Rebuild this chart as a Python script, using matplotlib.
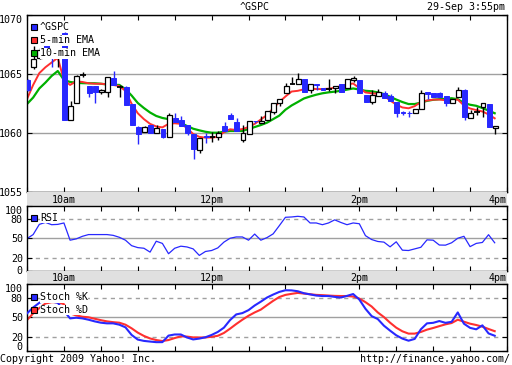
import matplotlib
matplotlib.use('Agg')
import matplotlib.pyplot as plt
from matplotlib.patches import Rectangle

W, H = 512, 365
FONT = 'DejaVu Sans Mono'
FS = 7.2

symbol = '^GSPC'
stamp = '29-Sep 3:55pm'
copyright_txt = 'Copyright 2009 Yahoo! Inc.'
url_txt = 'http://finance.yahoo.com/'
time_labels = ['10am', '12pm', '2pm', '4pm']
time_label_pos = [30, 150, 270, 390]          # minutes after 9:30
price_ticks = [1055, 1060, 1065, 1070]
osc_ticks = [0, 20, 50, 80, 100]
legend_main = ['^GSPC', '5-min EMA', '10-min EMA']

opens = [1064.52, 1065.64, 1066.4, 1067.9, 1067.06, 1066.47, 1068.5, 1061.1, 1062.6, 1064.9,
         1064.0, 1064.0, 1063.5, 1063.47, 1064.66, 1063.9, 1063.95, 1062.5, 1060.56, 1060.14,
         1060.7, 1060.0, 1060.34, 1059.71, 1061.27, 1061.13, 1060.7, 1059.92, 1058.58, 1059.77,
         1059.66, 1059.71, 1060.62, 1061.55, 1060.98, 1059.43, 1059.92, 1061.06, 1060.84, 1061.13,
         1061.83, 1062.54, 1063.44, 1064.15, 1064.15, 1064.58, 1063.67, 1064.18, 1063.87, 1063.75,
         1063.81, 1064.15, 1063.86, 1064.52, 1064.52, 1063.25, 1062.68, 1063.19, 1063.44, 1063.2,
         1062.68, 1061.78, 1061.76, 1061.69, 1062.03, 1063.53, 1063.44, 1063.39, 1063.16, 1062.54,
         1063.1, 1063.67, 1061.27, 1061.83, 1062.2, 1062.48, 1060.42]
highs = [1064.6, 1067.4, 1067.2, 1068.0, 1067.1, 1067.1, 1068.6, 1062.7, 1064.9, 1065.2,
         1064.0, 1064.0, 1063.75, 1064.8, 1065.3, 1064.1, 1064.0, 1062.5, 1060.6, 1060.65,
         1060.7, 1060.7, 1060.34, 1061.7, 1061.7, 1061.47, 1060.7, 1059.92, 1059.6, 1060.0,
         1060.14, 1060.2, 1060.98, 1061.72, 1061.3, 1060.7, 1061.04, 1061.06, 1061.47, 1061.89,
         1062.6, 1062.9, 1064.24, 1064.8, 1065.08, 1064.58, 1064.15, 1064.18, 1063.87, 1064.58,
         1064.0, 1064.15, 1064.58, 1064.86, 1064.52, 1063.25, 1063.67, 1063.73, 1063.6, 1063.3,
         1062.68, 1061.9, 1061.9, 1062.03, 1063.67, 1063.53, 1063.44, 1063.53, 1063.16, 1062.88,
         1063.95, 1063.75, 1061.97, 1062.25, 1062.54, 1062.48, 1060.62]
lows = [1063.6, 1065.45, 1066.3, 1067.2, 1065.62, 1065.62, 1061.1, 1061.1, 1062.6, 1064.8,
        1063.1, 1062.6, 1063.3, 1063.1, 1064.1, 1063.1, 1062.4, 1060.7, 1059.07, 1060.1,
        1060.0, 1060.0, 1059.58, 1059.71, 1060.98, 1060.64, 1059.86, 1057.8, 1058.3, 1059.15,
        1059.3, 1059.43, 1060.22, 1061.19, 1060.22, 1059.24, 1059.92, 1060.85, 1060.84, 1061.1,
        1061.6, 1062.3, 1063.44, 1064.15, 1064.15, 1063.53, 1063.44, 1063.67, 1063.67, 1063.58,
        1063.39, 1063.53, 1063.86, 1064.37, 1063.39, 1062.68, 1062.48, 1063.19, 1062.95, 1062.75,
        1061.36, 1061.55, 1061.4, 1061.69, 1062.03, 1062.9, 1063.05, 1063.1, 1062.34, 1062.54,
        1063.1, 1061.13, 1061.27, 1061.55, 1061.41, 1060.5, 1059.92]
closes = [1063.67, 1066.27, 1067.06, 1067.27, 1066.47, 1067.06, 1061.1, 1062.3, 1064.86, 1064.9,
          1063.4, 1063.5, 1063.7, 1064.8, 1064.1, 1063.9, 1062.4, 1060.7, 1059.92, 1060.56,
          1060.0, 1060.42, 1059.71, 1061.55, 1060.98, 1060.64, 1060.0, 1058.64, 1059.58, 1059.65,
          1059.66, 1060.0, 1060.22, 1061.19, 1060.22, 1060.0, 1061.04, 1061.0, 1061.04, 1061.89,
          1062.6, 1062.88, 1064.0, 1064.15, 1064.58, 1063.53, 1064.15, 1064.1, 1063.67, 1063.75,
          1064.0, 1063.53, 1064.58, 1064.66, 1063.39, 1062.68, 1063.25, 1063.53, 1062.95, 1062.75,
          1061.69, 1061.7, 1061.68, 1062.03, 1063.44, 1063.3, 1063.05, 1063.1, 1062.54, 1062.88,
          1063.67, 1061.41, 1061.69, 1061.83, 1062.54, 1060.5, 1060.62]

ema5 = [1062.9, 1064.1, 1065.1, 1065.6, 1066.0, 1066.4, 1064.5, 1064.1, 1064.4, 1064.35,
        1064.24, 1064.2, 1064.2, 1064.15, 1064.1, 1064.0, 1063.6, 1062.5, 1061.7, 1061.2,
        1060.8, 1060.58, 1060.5, 1060.8, 1060.85, 1060.8, 1060.45, 1059.94, 1059.7, 1059.63,
        1059.63, 1059.7, 1060.1, 1060.34, 1060.28, 1060.36, 1060.53, 1060.8, 1061.17, 1061.55,
        1062.12, 1062.65, 1063.12, 1063.54, 1063.6, 1063.73, 1063.8, 1063.75, 1063.75, 1063.78,
        1063.86, 1064.0, 1064.14, 1064.22, 1063.84, 1063.46, 1063.39, 1063.35, 1063.2, 1062.78,
        1062.44, 1062.19, 1062.12, 1062.3, 1062.65, 1062.78, 1062.85, 1062.86, 1062.8, 1062.82,
        1062.86, 1062.36, 1062.1, 1061.97, 1061.85, 1061.6, 1061.27]
ema10 = [1062.48, 1063.03, 1063.8, 1064.3, 1064.86, 1065.28, 1064.52, 1064.35, 1064.28, 1064.25,
         1064.24, 1064.24, 1064.2, 1064.14, 1064.1, 1064.1, 1063.75, 1063.2, 1062.57, 1062.14,
         1061.76, 1061.47, 1061.3, 1061.2, 1061.08, 1060.87, 1060.62, 1060.39, 1060.25, 1060.13,
         1060.05, 1060.05, 1060.13, 1060.2, 1060.2, 1060.2, 1060.36, 1060.53, 1060.7, 1060.9,
         1061.2, 1061.5, 1062.0, 1062.36, 1062.65, 1062.95, 1063.12, 1063.27, 1063.39, 1063.47,
         1063.53, 1063.6, 1063.7, 1063.8, 1063.71, 1063.6, 1063.56, 1063.47, 1063.33, 1063.1,
         1062.86, 1062.65, 1062.48, 1062.48, 1062.6, 1062.75, 1062.84, 1062.89, 1062.92, 1062.97,
         1062.89, 1062.57, 1062.42, 1062.33, 1062.14, 1061.93, 1061.7]

rsi = [49.5, 55.7, 71.5, 74.6, 71, 71.5, 73.7, 47, 49, 53,
       55.7, 55.7, 55.7, 55.7, 54.5, 51.5, 47, 38.5, 35.5, 34.5,
       28.5, 45.4, 42, 26, 34.5, 37.7, 36.5, 33.5, 23.4, 29.5,
       31, 35, 44, 50, 52, 52, 47, 56.5, 47, 51,
       56.8, 69.5, 82.5, 83, 84, 83, 73.7, 73.7, 71, 73.7,
       78.5, 74.5, 71, 73.7, 72.5, 54, 48, 45, 44, 36.7,
       44.5, 31.5, 31, 33.5, 36, 47.5, 47, 39.5, 39.3, 43,
       50, 53, 37, 42, 43.5, 55.5, 43]

stoch_k = [56, 65, 72, 76, 74, 72, 60, 48.5, 49.5, 48.5,
           46.5, 44, 42, 41, 41, 39, 35, 23.5, 16.5, 14.5,
           13.5, 12.6, 12.6, 22.5, 24.2, 24.2, 19.7, 16.7, 18, 20,
           23.5, 28, 34.5, 46, 54.5, 56.5, 61, 68, 73.8, 80,
           84.5, 88.5, 91, 90.8, 89.5, 86.5, 84.8, 83, 82.3, 82.3,
           81, 80, 82.5, 85.3, 77, 63, 52, 47.5, 37.5, 30,
           23, 18, 14.8, 17.5, 32, 41, 41.8, 44.5, 41.8, 43.3,
           57.5, 40.5, 34.2, 32, 38, 25.8, 22.3]
stoch_d = [46, 56, 64, 71, 73, 73, 70, 56, 53, 51,
           50.2, 48, 45.8, 44, 42.8, 42, 39, 33.5, 27, 22,
           18.2, 15.8, 14.3, 15.8, 18.8, 21.4, 21, 19.8, 19.7, 19.7,
           20.7, 22.2, 26.5, 33, 40, 46.5, 52.5, 57.5, 61.8, 68.5,
           75, 80.8, 84, 85.6, 87, 86, 85, 84, 83.6, 83,
           82.5, 82.3, 82.3, 81.5, 78.5, 73, 66.5, 57.5, 50.5, 42,
           34.5, 29, 25.5, 25.5, 28, 31.5, 34, 36.8, 39.5, 41.5,
           46.5, 43.5, 40.5, 38.5, 36, 32.5, 29.2]

BLUE = '#2828ff'
RED = '#ff3030'
GREEN = '#00b000'
GRID = '#a0a0a0'
BAND = '#e0e0e0'

n = len(closes)
t = [5 * i for i in range(n)]          # minutes after 9:30
tc = [5 * i + 0.5 for i in range(n)]   # candle centres


def rect(x0, y0, x1, y1):
    return [x0 / W, 1 - y1 / H, (x1 - x0) / W, (y1 - y0) / H]


def px(x):
    return x / W


def py(y):
    return 1 - y / H


fig = plt.figure(figsize=(W / 100, H / 100), dpi=100)
fig.patch.set_facecolor('white')

ax = fig.add_axes(rect(27, 15.3, 507, 192.3))
band1 = fig.add_axes(rect(27, 192.3, 507, 206))
ax_r = fig.add_axes(rect(27, 206, 507, 270.5))
band2 = fig.add_axes(rect(27, 270.5, 507, 284.3))
ax_s = fig.add_axes(rect(27, 284.3, 507, 350.5))

half_hours = list(range(0, 391, 30))
hours = list(range(30, 391, 60))


def style_panel(a, yticks, ylim):
    a.set_xlim(0, 390)
    a.set_ylim(*ylim)
    a.set_xticks(half_hours)
    a.set_xticks(hours, minor=True)
    a.tick_params(axis='x', which='major', direction='in', length=3.5, top=True, bottom=True,
                  labelbottom=False, width=0.8)
    a.tick_params(axis='x', which='minor', length=0)
    a.grid(True, which='minor', axis='x', color=GRID, lw=1, zorder=0)
    a.set_yticks(yticks)
    a.set_yticklabels([str(v) for v in yticks], fontfamily=FONT, fontsize=FS)
    a.tick_params(axis='y', direction='in', length=3.5, left=True, right=True, pad=3, width=0.8)
    for s in a.spines.values():
        s.set_color('black')
        s.set_linewidth(1)
    a.set_axisbelow(True)


style_panel(ax, price_ticks, (price_ticks[0], price_ticks[-1]))
ax.grid(True, which='major', axis='y', color=GRID, lw=1)
ax.yaxis.get_major_ticks()[-1].label1.set_va('top')

for a in (ax_r, ax_s):
    style_panel(a, osc_ticks, (0, 100))
    a.axhline(osc_ticks[2], color=GRID, lw=1, zorder=0)
    a.axhline(osc_ticks[1], color=GRID, lw=1, ls=(0, (3, 3)), zorder=0)
    a.axhline(osc_ticks[3], color=GRID, lw=1, ls=(0, (3, 3)), zorder=0)
    a.yaxis.get_major_ticks()[-1].label1.set_va('top')
ax_s.yaxis.get_major_ticks()[0].label1.set_va('baseline')

for b in (band1, band2):
    b.set_facecolor(BAND)
    b.set_xlim(0, 390)
    b.set_ylim(0, 1)
    b.set_xticks([])
    b.set_yticks([])
    for s in b.spines.values():
        s.set_visible(False)
    for lab, pos in zip(time_labels, time_label_pos):
        b.text(pos, 0.45, lab, ha='right' if pos == 390 else 'center', va='center',
               fontfamily=FONT, fontsize=FS)

# EMA lines
ax.plot(t, ema10, color=GREEN, lw=1.6, zorder=2)
ax.plot(t, ema5, color=RED, lw=1.4, zorder=2)

# candles
for x, o, h, l, c in zip(tc, opens, highs, lows, closes):
    if c < o:
        col = BLUE
    else:
        col = 'black'
    ax.vlines(x, l, h, color=col, lw=1, zorder=3)
    if c > o:
        ax.bar(x, c - o, bottom=o, width=4, facecolor='white', edgecolor='black', lw=0.9, zorder=4)
    elif c < o:
        ax.bar(x, c - o, bottom=o, width=4, facecolor=BLUE, edgecolor=BLUE, lw=0.7, zorder=4)
    else:
        ax.hlines(c, x - 2.2, x + 2.2, color='black', lw=1.3, zorder=4)

# RSI
ax_r.plot(t, rsi, color=BLUE, lw=0.9, zorder=2)

# Stochastics
ax_s.plot(t, stoch_d, color=RED, lw=1.5, zorder=2)
ax_s.plot(t, stoch_k, color=BLUE, lw=1.5, zorder=3)


def legend_item(ypix, color, label):
    fig.add_artist(Rectangle((px(31), py(ypix + 3)), 6 / W, 6 / H, transform=fig.transFigure,
                             facecolor=color, edgecolor='black', lw=0.8, zorder=6))
    fig.text(px(40), py(ypix), label, ha='left', va='center', fontfamily=FONT, fontsize=FS,
             zorder=5, bbox=dict(facecolor='white', edgecolor='none', pad=0.3))


legend_item(27, BLUE, legend_main[0])
legend_item(40.3, RED, legend_main[1])
legend_item(53.3, GREEN, legend_main[2])
legend_item(217.5, BLUE, 'RSI')
legend_item(297.3, BLUE, 'Stoch %K')
legend_item(310, RED, 'Stoch %D')

fig.text(px(255), py(7), symbol, ha='center', va='center', fontfamily=FONT, fontsize=FS)
fig.text(px(505), py(7), stamp, ha='right', va='center', fontfamily=FONT, fontsize=FS)
fig.text(px(0), py(359.5), copyright_txt, ha='left', va='center', fontfamily=FONT, fontsize=FS)
fig.text(px(510), py(359.5), url_txt, ha='right', va='center', fontfamily=FONT, fontsize=FS)

fig.savefig('out.png', dpi=100, facecolor='white')
